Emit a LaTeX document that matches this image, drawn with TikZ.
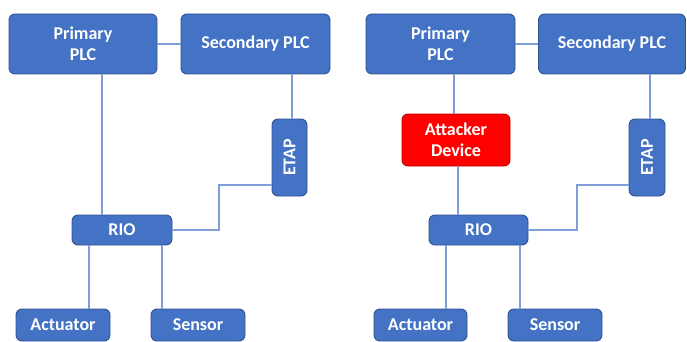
\documentclass[tikz,border=0pt]{standalone}
\usepackage{fontspec}
\setmainfont{Carlito}
\definecolor{boxblue}{HTML}{4472C4}
\definecolor{boxedge}{HTML}{2F528F}
\definecolor{linkblue}{HTML}{7F9FD8}
\definecolor{attred}{HTML}{FF0000}
\definecolor{attedge}{HTML}{C00000}
\begin{document}
\begin{tikzpicture}[x=1pt,y=-1pt,
  box/.style={draw=boxedge,fill=boxblue,line width=0.9pt,rounded corners=6pt,
    text=white,font=\fontsize{18}{21}\selectfont\bfseries,align=center,inner sep=0pt},
  attbox/.style={box,draw=attedge,fill=attred},
  link/.style={draw=linkblue,line width=1.4pt}]
\useasboundingbox (0,0) rectangle (687,342);
% left
\node[box,minimum width=148pt,minimum height=60pt] (pp) at (83,44) {Primary\\PLC};
\node[box,minimum width=149pt,minimum height=60pt] (sp) at (255.5,44) {Secondary PLC};
\node[box,minimum width=77pt,minimum height=35pt,rotate=90] (etap) at (289.5,157.5) {ETAP};
\node[box,minimum width=100pt,minimum height=30pt] (rio) at (122,230) {RIO};
\node[box,minimum width=94pt,minimum height=32pt] (act) at (63,325) {Actuator};
\node[box,minimum width=94pt,minimum height=32pt] (sen) at (198,325) {Sensor};
\coordinate (a1) at (102,0);
\coordinate (a2) at (292,0);
\coordinate (a3) at (219,185);
\coordinate (a4) at (89,0);
\coordinate (a5) at (162,0);
\draw[link] (pp.east) -- (sp.west);
\draw[link] (pp.south -| a1) -- (rio.north -| a1);
\draw[link] (sp.south -| a2) -- (etap.east -| a2);
\draw[link] (rio.east) -| (a3) -- (etap.north |- a3);
\draw[link] (rio.south -| a4) -- (act.north -| a4);
\draw[link] (rio.south -| a5) -- (sen.north -| a5);
% right
\node[box,minimum width=149pt,minimum height=60pt] (pp2) at (440.5,44) {Primary\\PLC};
\node[box,minimum width=147pt,minimum height=60pt] (sp2) at (612,44) {Secondary PLC};
\node[attbox,minimum width=108pt,minimum height=52pt] (att) at (456,140) {Attacker\\Device};
\node[box,minimum width=77pt,minimum height=36pt,rotate=90] (etap2) at (647,157.5) {ETAP};
\node[box,minimum width=99pt,minimum height=30pt] (rio2) at (478.5,230) {RIO};
\node[box,minimum width=93pt,minimum height=32pt] (act2) at (420.5,325) {Actuator};
\node[box,minimum width=94pt,minimum height=32pt] (sen2) at (555,325) {Sensor};
\coordinate (b1) at (454,0);
\coordinate (b6) at (458,0);
\coordinate (b2) at (650,0);
\coordinate (b3) at (577,185);
\coordinate (b4) at (446,0);
\coordinate (b5) at (520,0);
\draw[link] (pp2.east) -- (sp2.west);
\draw[link] (pp2.south -| b1) -- (att.north -| b1);
\draw[link] (att.south -| b6) -- (rio2.north -| b6);
\draw[link] (sp2.south -| b2) -- (etap2.east -| b2);
\draw[link] (rio2.east) -| (b3) -- (etap2.north |- b3);
\draw[link] (rio2.south -| b4) -- (act2.north -| b4);
\draw[link] (rio2.south -| b5) -- (sen2.north -| b5);
\end{tikzpicture}
\end{document}
